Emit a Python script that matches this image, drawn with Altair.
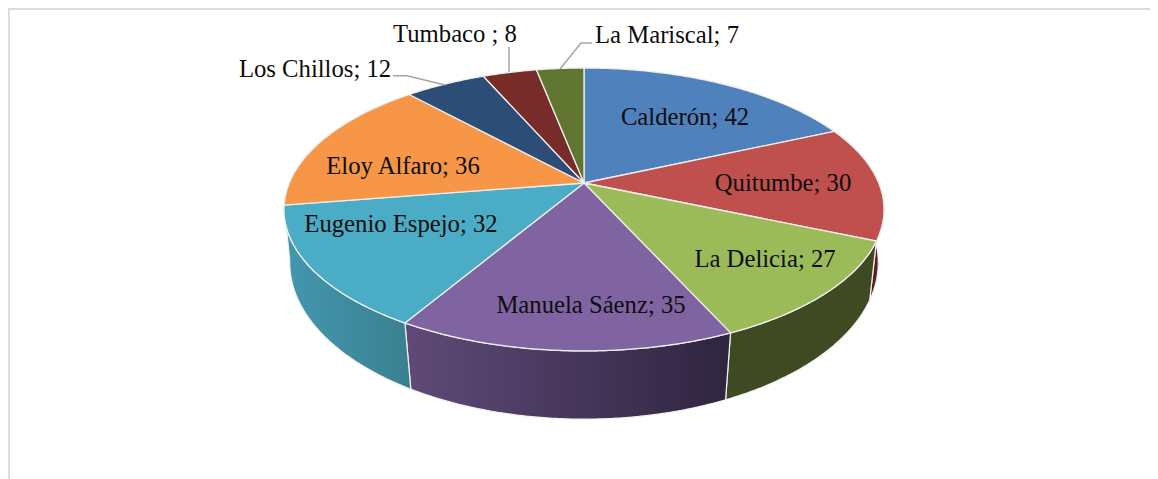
import math
import altair as alt

# --- data ---
names = ["Calderón", "Quitumbe", "La Delicia", "Manuela Sáenz", "Eugenio Espejo",
         "Eloy Alfaro", "Los Chillos", "Tumbaco ", "La Mariscal"]
values = [42, 30, 27, 35, 32, 36, 12, 8, 7]
top_colors = ["#4f81bd", "#c0504d", "#9bbb59", "#8064a2", "#4bacc6",
              "#f79646", "#2c4d75", "#772c2a", "#5f7530"]

# --- layout of the tilted disc (page pixels) ---
OX, OY = 8, 8
W, H = 1142, 471
CX = 584
TOP = dict(cy=183, a=294.7, b=136.5, k=-0.187)
LOW = dict(cy=236, a=290.0, b=152.0, k=-0.170)
label_centers = [(685, 116), (783, 182), (765, 258), (591, 304), (401, 223),
                 (403, 165), (315, 68), (455, 33), (667, 34)]
leaders = [[(393, 75.7), (407, 75.7), (445, 85)],
           [(509, 47), (509, 72)],
           [(592, 43), (581, 43), (560, 69)]]
frame = [(9, 479), (9, 9), (1150, 9)]
extent = [(OX, OY), (OX + W, OY + H)]


def rim(deg, r):
    t = math.radians(deg)
    u, v = math.sin(t), -math.cos(t)
    d = 1 + r["k"] * v
    return [CX + r["a"] * u / d - OX, r["cy"] + r["b"] * v / d - OY]


def arc(a0, a1, r):
    n = max(2, int(abs(a1 - a0) * 2))
    return [rim(a0 + (a1 - a0) * i / n, r) for i in range(n + 1)]


def px(points):
    return [[x - OX, y - OY] for x, y in points]


def poly(ring, **props):
    ring = ring + [ring[0]]
    return {"type": "Feature", "properties": props,
            "geometry": {"type": "Polygon", "coordinates": [ring]}}


def line(points):
    return {"type": "Feature", "properties": {},
            "geometry": {"type": "LineString", "coordinates": px(points)}}


total = sum(values)
cum = [0]
for val in values:
    cum.append(cum[-1] + val)
angles = [c / total * 360 for c in cum]

centre = [CX - OX, TOP["cy"] - OY]
tops = [poly([centre] + arc(angles[i], angles[i + 1], TOP), name=names[i]) for i in range(len(names))]


def wall(i):
    return arc(angles[i], angles[i + 1], TOP) + arc(angles[i + 1], angles[i], LOW)


proj = alt.Projection(type="identity", scale=1, translate=[0, 0])


def gradient(c0, c1):
    return alt.Gradient(gradient="linear", x1=0, x2=1, y1=0, y2=0,
                        stops=[alt.GradientStop(color=c0, offset=0),
                               alt.GradientStop(color=c1, offset=1)])


def geo(features, **mark):
    return alt.Chart(alt.Data(values=features)).mark_geoshape(**mark).project(**proj.to_dict())


wall_style = dict(stroke="#f2f2f2", strokeWidth=1.2)
walls = [
    geo([poly(wall(1))], fill="#5c1f20", **wall_style),
    geo([poly(wall(2))], fill="#3f4a22", **wall_style),
    geo([poly(wall(3))], fill=gradient("#604a78", "#2e2540"), **wall_style),
    geo([poly(wall(4))], fill=gradient("#4497b0", "#39808f"), **wall_style),
]

top_layer = geo(tops, stroke="#eeeeee", strokeWidth=1.3).encode(
    fill=alt.Fill("properties.name:N", scale=alt.Scale(domain=names, range=top_colors), legend=None)
)

# invisible diagonal spanning the plot: the projection's fit then keeps scale 1
extent_layer = geo([line(extent)], filled=False, stroke="#ffffff", strokeOpacity=0)
frame_layer = geo([line(frame)], filled=False, stroke="#dcdcdc", strokeWidth=2)
leader_layer = geo([line(p) for p in leaders], filled=False, stroke="#a6a6a6", strokeWidth=1.5)

labels = [{"text": f"{n}; {v}", "x": c[0] - OX, "y": c[1] - OY}
          for n, v, c in zip(names, values, label_centers)]
text_layer = alt.Chart(alt.Data(values=labels)).mark_text(
    font="Liberation Serif", fontSize=24.7, color="#0d0d0d", align="center", baseline="middle", dy=1.5
).encode(
    x=alt.X("x:Q", scale=None, axis=None),
    y=alt.Y("y:Q", scale=None, axis=None),
    text="text:N",
)

chart = alt.layer(extent_layer, frame_layer, *walls, top_layer, leader_layer, text_layer).properties(
    width=W, height=H, padding=0
).configure_view(stroke=None)

chart.save("out.html", embed_options={"renderer": "svg", "actions": False})
